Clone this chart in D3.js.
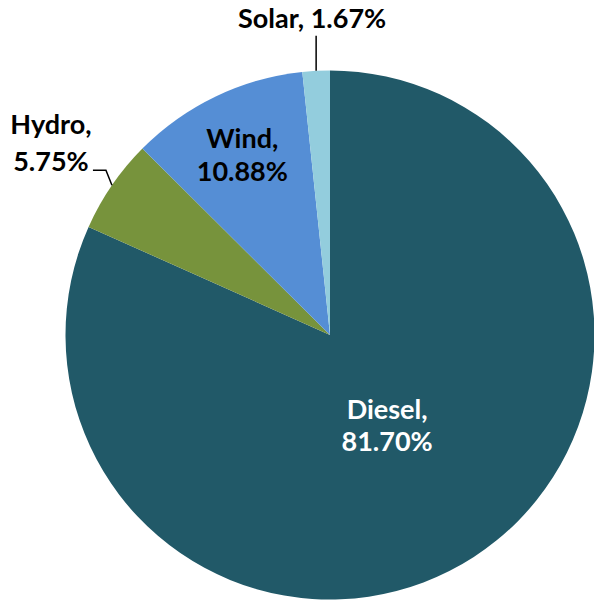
<!DOCTYPE html>
<html>
<head>
<meta charset="utf-8">
<script src="https://cdn.jsdelivr.net/npm/d3@7"></script>
<style>
  body { margin: 0; background: #fff; }
  svg { display: block; }
  text { font-family: Lato, "Liberation Sans", sans-serif; font-weight: bold; font-size: 27px; }
</style>
</head>
<body>
<svg width="594" height="601"></svg>
<script>
// data, clockwise from 12 o'clock
const categories = ["Diesel", "Hydro", "Wind", "Solar"];
const shares = [81.70, 5.75, 10.88, 1.67];
const colors = ["#215968", "#77933C", "#558ED5", "#93CDDD"];
const shareLabels = ["81.70%", "5.75%", "10.88%", "1.67%"];

const svg = d3.select("svg");
const cx = 330, cy = 335, R = 264.5;

const g = svg.append("g").attr("transform", `translate(${cx},${cy})`);

const pie = d3.pie().sort(null).value(d => d.value);
const arcs = pie(categories.map((c, i) => ({ name: c, value: shares[i], i: i })));

const arc = d3.arc().innerRadius(0).outerRadius(R);

g.selectAll("path.slice")
    .data(arcs)
    .enter().append("path")
    .attr("class", "slice")
    .attr("d", arc)
    .attr("fill", d => colors[d.data.i]);

// point on an arc at radius r, at slice mid angle
function at(d, r) {
    const a = (d.startAngle + d.endAngle) / 2;
    return [r * Math.sin(a), -r * Math.cos(a)];
}

// inside labels
const inside = { Diesel: { r: 105, dy: 32, fill: "#fff" }, Wind: { r: 203, dy: 33, fill: "#000" } };
arcs.filter(d => inside[d.data.name]).forEach(d => {
    const o = inside[d.data.name];
    const p = at(d, o.r);
    const t = g.append("text")
        .attr("text-anchor", "middle")
        .attr("fill", o.fill);
    t.append("tspan").attr("x", p[0]).attr("y", p[1] - 4).text(d.data.name + ",");
    t.append("tspan").attr("x", p[0]).attr("y", p[1] - 4 + o.dy).text(shareLabels[d.data.i]);
});

// Hydro: outside with elbow leader
const hydro = arcs[1];
const hp = at(hydro, R);
const elbow = [hp[0] - 6, hp[1] - 15];
const hEnd = [elbow[0] - 13, elbow[1]];
g.append("polyline")
    .attr("points", [hp, elbow, hEnd].map(p => p.join(",")).join(" "))
    .attr("fill", "none")
    .attr("stroke", "#000")
    .attr("stroke-width", 1.5);
const ht = g.append("text").attr("text-anchor", "middle").attr("fill", "#000");
ht.append("tspan").attr("x", hEnd[0] - 42).attr("y", hEnd[1] - 36).text(hydro.data.name + ",");
ht.append("tspan").attr("x", hEnd[0] - 42).attr("y", hEnd[1] + 1).text(shareLabels[1]);

// Solar: outside, vertical leader
const solar = arcs[3];
const sp = at(solar, R);
g.append("line")
    .attr("x1", sp[0]).attr("y1", sp[1])
    .attr("x2", sp[0]).attr("y2", sp[1] - 35)
    .attr("stroke", "#000")
    .attr("stroke-width", 1.5);
g.append("text")
    .attr("text-anchor", "middle")
    .attr("x", sp[0] - 4)
    .attr("y", sp[1] - 43)
    .attr("fill", "#000")
    .text(solar.data.name + ", " + shareLabels[3]);
</script>
</body>
</html>
